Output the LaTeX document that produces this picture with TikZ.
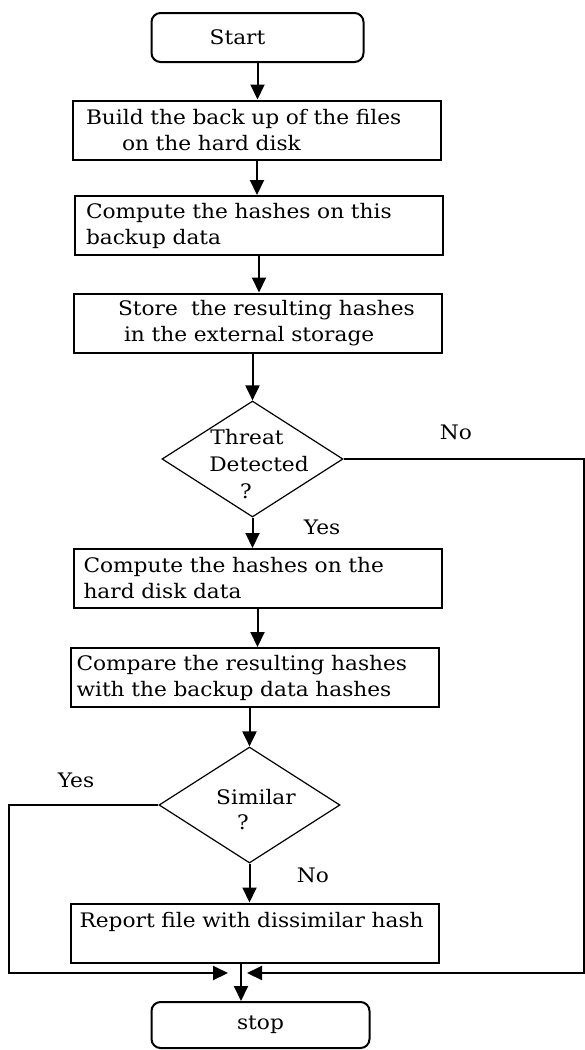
\documentclass[tikz,border=0pt]{standalone}
\usepackage{fontspec}
\setmainfont{DejaVu Serif}[FakeStretch=1.085]
\usetikzlibrary{shapes.geometric,arrows.meta}

\begin{document}
\begin{tikzpicture}[x=1pt, y=-1pt,
    every node/.style={font=\fontsize{20}{26}\selectfont},
    proc/.style={draw, line width=2pt, minimum width=368pt, minimum height=59pt,
        inner xsep=6pt, inner ysep=0pt, text width=356pt, align=left},
    term/.style={draw, line width=2pt, rounded corners=9pt, minimum width=212pt},
    decide/.style={draw, diamond, line width=1.2pt, minimum width=181pt,
        minimum height=116pt, inner sep=0pt},
    dtext/.style={align=center, font=\fontsize{20}{27}\selectfont},
    flow/.style={-{Triangle[length=15pt, width=14pt]}, line width=2pt}]
    \useasboundingbox (0,0) rectangle (585,1050);

    % 开始
    \node[term, minimum height=49pt] (start) at (257.5, 37.5) {Start\hspace*{40pt}};

    % 备份与哈希
    \node[proc] (backup) at (257, 130) {\hspace*{7pt}Build the back up of the files\\\hspace*{43pt}on the hard disk};
    \node[proc] (hashbak) at (259, 225.5) {\hspace*{5pt}Compute the hashes on this\\\hspace*{5pt}backup data};
    \node[proc] (store) at (258, 323) {\hspace*{38pt}Store~ the resulting hashes\\\hspace*{44pt}in the external storage};

    % 威胁判断
    \node[decide] (threat) at (252.5, 459) {};
    \node[dtext] (threattxt) at (254, 464) {Threat\hspace*{14pt}\\\hspace*{10pt}Detected\\?\hspace*{16pt}};

    % 比较
    \node[proc] (hashdisk) at (257.5, 578.5) {\hspace*{4pt}Compute the hashes on the\\\hspace*{4pt}hard disk data};
    \node[proc] (compare) at (254.5, 677.5) {Compare the resulting hashes\\with the backup data hashes};

    % 相似判断
    \node[decide] (similar) at (249.5, 805) {};
    \node[dtext, font=\fontsize{20}{25}\selectfont] (similartxt) at (249.5, 810) {\hspace*{13pt}Similar\\?\hspace*{13pt}};

    % 报告
    \node[proc] (report) at (254.5, 933) {\hspace*{3pt}Report file with dissimilar hash\\~};

    % 结束
    \node[term, minimum width=218pt, minimum height=46pt] (stop) at (260.5, 1025) {stop};

    % 标签
    \node (tno) at (456, 432) {No};
    \node (tyes) at (322, 527) {Yes};
    \node (syes) at (76, 780) {Yes};
    \node (sno) at (313, 875) {No};

    % 汇合点
    \coordinate (rc) at (584, 973);
    \coordinate (lc) at (9, 973);
    \coordinate (rin) at (247, 973);
    \coordinate (lin) at (228, 973);
    \coordinate (mid) at (241, 973);

    % 连线
    \draw[flow] (start.south) -- (start.south |- backup.north);
    \draw[flow] (backup.south) -- (backup.south |- hashbak.north);
    \draw[flow] (hashbak.south) -- (hashbak.south |- store.north);
    \draw[flow] (store.south -| threat.north) -- (threat.north);
    \draw[flow] (threat.south) -- (threat.south |- hashdisk.north);
    \draw[flow] (hashdisk.south) -- (hashdisk.south |- compare.north);
    \draw[flow] (compare.south -| similar.north) -- (similar.north);
    \draw[flow] (similar.south) -- (similar.south |- report.north);
    \draw[flow] (threat.east) -| (rc) -- (rin);
    \draw[flow] (similar.west) -| (lc) -- (lin);
    \draw[flow] (report.south -| mid) -- (stop.north -| mid);
\end{tikzpicture}
\end{document}
